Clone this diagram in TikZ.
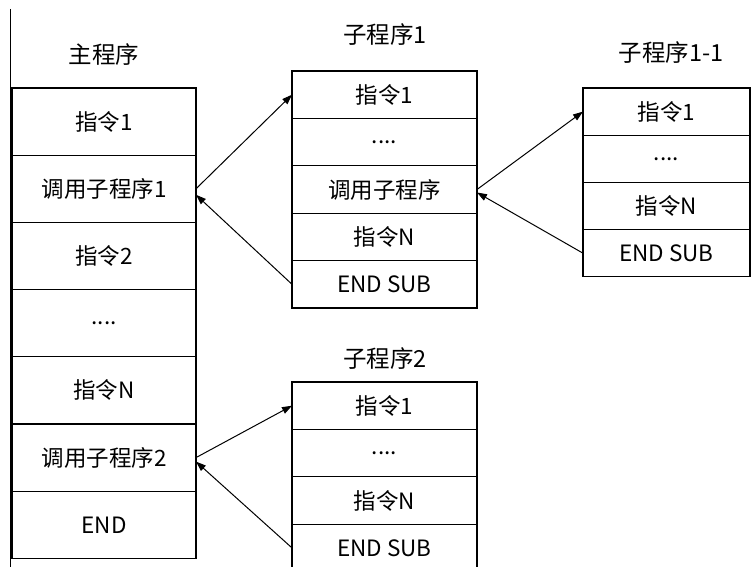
\documentclass[tikz,border=0pt]{standalone}
\usepackage{fontspec}
\setmainfont{Noto Sans CJK SC}
\usetikzlibrary{arrows.meta,positioning}

\tikzset{
  cell/.style={draw, line width=1.1pt, inner sep=0pt, outer sep=0pt,
    font=\fontsize{22.5}{26}\selectfont},
  mainrow/.style={cell, minimum width=184pt, minimum height=67.2pt},
  subrow/.style={cell, minimum width=185pt, minimum height=47.4pt},
  subsubrow/.style={cell, minimum width=167pt, minimum height=47.2pt},
  title/.style={font=\fontsize{23.5}{27}\selectfont},
  call/.style={-{Triangle[length=10pt,width=7pt]}, line width=1pt}
}

\begin{document}
\begin{tikzpicture}[x=1pt, y=-1pt]
  \useasboundingbox (0,0) rectangle (755,567);
  \draw[line width=1.1pt] (10.5,9) -- (10.5,567);

  % main program
  \node[title] (tmain) at (104,55) {主程序};
  \node[mainrow, anchor=north west] (m1) at (12,88) {指令1};
  \node[mainrow, below=0pt of m1] (m2) {调用子程序1};
  \node[mainrow, below=0pt of m2] (m3) {指令2};
  \node[mainrow, below=0pt of m3] (m4) {....};
  \node[mainrow, below=0pt of m4] (m5) {指令N};
  \node[mainrow, below=0pt of m5] (m6) {调用子程序2};
  \node[mainrow, below=0pt of m6] (m7) {END};

  % subprogram 1
  \node[title] (ta) at (385,35) {子程序1};
  \node[subrow, anchor=north west] (a1) at (292,71) {指令1};
  \node[subrow, below=0pt of a1] (a2) {....};
  \node[subrow, below=0pt of a2] (a3) {调用子程序};
  \node[subrow, below=0pt of a3] (a4) {指令N};
  \node[subrow, below=0pt of a4] (a5) {END SUB};

  % subprogram 1-1
  \node[title] (tb) at (671,53) {子程序1-1};
  \node[subsubrow, anchor=north west] (b1) at (583,88) {指令1};
  \node[subsubrow, below=0pt of b1] (b2) {....};
  \node[subsubrow, below=0pt of b2] (b3) {指令N};
  \node[subsubrow, below=0pt of b3] (b4) {END SUB};

  % subprogram 2
  \node[title] (tc) at (385,359) {子程序2};
  \node[subrow, anchor=north west] (c1) at (292,382) {指令1};
  \node[subrow, below=0pt of c1] (c2) {....};
  \node[subrow, below=0pt of c2] (c3) {指令N};
  \node[subrow, below=0pt of c3] (c4) {END SUB};

  % calls and returns
  \draw[call] (m2.east) -- (a1.west);
  \draw[call] (a5.west) -- ([yshift=-6pt]m2.east);
  \draw[call] (a3.east) -- (b1.west);
  \draw[call] (b4.west) -- ([yshift=-3pt]a3.east);
  \draw[call] (m6.east) -- (c1.west);
  \draw[call] (c4.west) -- ([yshift=-4pt]m6.east);
\end{tikzpicture}
\end{document}
